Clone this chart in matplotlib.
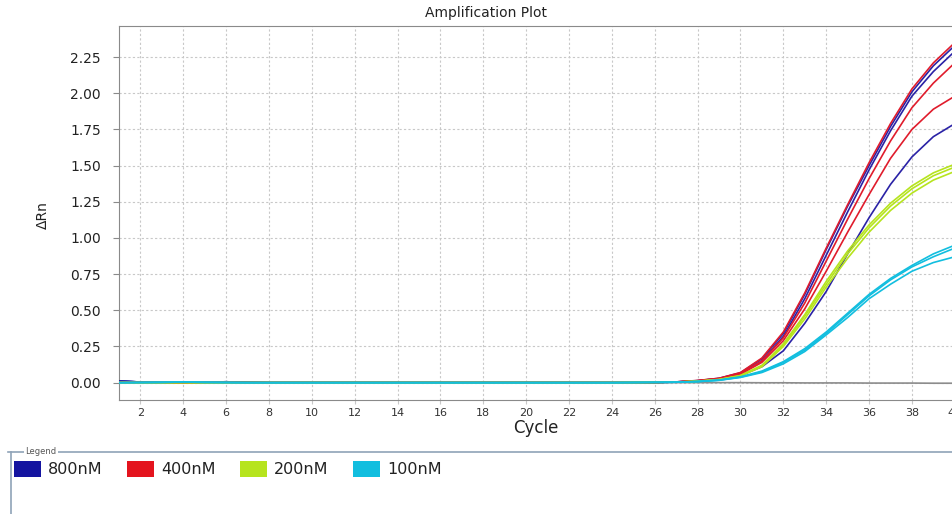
import matplotlib
matplotlib.use("Agg")
import matplotlib.pyplot as plt
from matplotlib.lines import Line2D
from matplotlib.patches import Rectangle

plt.rcParams['font.family'] = ['DejaVu Sans']

# cycle numbers
cycles = list(range(1, 41))

# baseline (cycles 1-26)
base_blue = [0.012, 0.004, 0.001, 0.001, 0.002, 0.006, 0.002, 0.0, 0.0, 0.0,
             0.0, 0.0, 0.0, 0.0, 0.0, 0.0, 0.0, 0.0, 0.0, 0.0,
             0.0, 0.0, 0.0, 0.0, 0.0, 0.001]
base_red = [0.002, 0.001, 0.0, 0.001, 0.001, 0.001, 0.0, 0.0, 0.0, 0.0,
            0.0, 0.0, 0.0, 0.0, 0.0, 0.0, 0.0, 0.0, 0.0, 0.0,
            0.0, 0.0, 0.0, 0.0, 0.001, 0.002]
base_green = [0.0, 0.0, 0.0, 0.001, 0.0, 0.0, 0.0, 0.0, 0.0, 0.0,
              0.0, 0.0, 0.0, 0.0, 0.0, 0.0, 0.0, 0.0, 0.0, 0.0,
              0.0, 0.0, 0.0, 0.0, 0.001, 0.002]
base_cyan = [0.0, 0.001, 0.002, 0.004, 0.002, 0.001, 0.0, 0.0, 0.0, 0.0,
             0.0, 0.0, 0.0, 0.0, 0.0, 0.0, 0.0, 0.0, 0.0, 0.0,
             0.0, 0.0, 0.0, 0.0, 0.001, 0.002]
ntc = [0.0] * 30 + [-0.001, -0.001, -0.002, -0.002, -0.002, -0.003, -0.003, -0.003, -0.004, -0.004]

# rise (cycles 27-40) for every well
rise_800 = [
    [0.005, 0.014, 0.030, 0.068, 0.165, 0.34, 0.61, 0.92, 1.22, 1.50, 1.77, 2.01, 2.19, 2.33],
    [0.005, 0.013, 0.028, 0.063, 0.150, 0.32, 0.58, 0.88, 1.18, 1.47, 1.74, 1.98, 2.15, 2.29],
    [0.004, 0.010, 0.022, 0.050, 0.110, 0.22, 0.41, 0.63, 0.89, 1.14, 1.37, 1.56, 1.70, 1.79],
]
rise_400 = [
    [0.005, 0.015, 0.030, 0.070, 0.170, 0.35, 0.62, 0.93, 1.23, 1.52, 1.79, 2.03, 2.21, 2.35],
    [0.005, 0.013, 0.028, 0.062, 0.150, 0.31, 0.55, 0.84, 1.13, 1.41, 1.67, 1.90, 2.07, 2.21],
    [0.004, 0.012, 0.026, 0.058, 0.140, 0.29, 0.51, 0.77, 1.04, 1.30, 1.55, 1.75, 1.89, 1.98],
]
rise_200 = [
    [0.004, 0.010, 0.022, 0.050, 0.120, 0.27, 0.47, 0.70, 0.91, 1.09, 1.24, 1.36, 1.45, 1.51],
    [0.004, 0.010, 0.021, 0.048, 0.115, 0.26, 0.46, 0.68, 0.89, 1.07, 1.22, 1.34, 1.43, 1.49],
    [0.004, 0.009, 0.020, 0.046, 0.110, 0.25, 0.44, 0.66, 0.86, 1.04, 1.19, 1.31, 1.40, 1.46],
]
rise_100 = [
    [0.003, 0.008, 0.018, 0.040, 0.080, 0.145, 0.235, 0.35, 0.48, 0.61, 0.72, 0.81, 0.89, 0.95],
    [0.003, 0.008, 0.017, 0.038, 0.075, 0.140, 0.225, 0.34, 0.47, 0.60, 0.71, 0.80, 0.87, 0.93],
    [0.003, 0.007, 0.016, 0.036, 0.070, 0.130, 0.215, 0.33, 0.45, 0.58, 0.68, 0.77, 0.83, 0.87],
]

labels = ['800nM', '400nM', '200nM', '100nM']
colors = ['#1414a0', '#e4141e', '#b6e41e', '#12bedf']
line_colors = ['#2a22a6', '#e01c2c', '#b6e41e', '#12bedf']
bases = [base_blue, base_red, base_green, base_cyan]
rises = [rise_800, rise_400, rise_200, rise_100]

W, H = 952, 514
fig = plt.figure(figsize=(W / 100, H / 100), dpi=100)
# axes runs past the right edge of the image like the original screenshot
ax = fig.add_axes([119 / W, (H - 400) / H, (965.5 - 119) / W, (400 - 26) / H])

ax.plot(cycles, ntc, color='#8c8c8c', lw=1.2, zorder=2)
for base, rs, col in zip(bases, rises, line_colors):
    for r in rs:
        ax.plot(cycles, base + r, color=col, lw=1.2, zorder=3)

ax.set_xlim(1, 40.5)
ax.set_ylim(-0.12, 2.465)
ax.set_xticks(range(2, 41, 2))
ax.set_yticks([0, 0.25, 0.5, 0.75, 1.0, 1.25, 1.5, 1.75, 2.0, 2.25])
ax.set_yticklabels(['0.00', '0.25', '0.50', '0.75', '1.00', '1.25', '1.50', '1.75', '2.00', '2.25'])
ax.grid(True, color='#c8c8c8', linestyle=(0, (2, 2)), linewidth=0.8)
ax.set_axisbelow(True)
for s in ['left', 'bottom', 'top']:
    ax.spines[s].set_color('#8a8a8a')
ax.spines['right'].set_visible(False)
ax.tick_params(axis='y', length=4, width=0.8, color='#8a8a8a', labelsize=10, pad=9, labelcolor='#222222')
ax.tick_params(axis='x', length=3, width=0.8, color='#c8c8c8', labelsize=8, pad=3, labelcolor='#333333')

fig.text(486 / W, 1 - 13 / H, 'Amplification Plot', ha='center', va='center', fontsize=10, color='#222222')
fig.text(536 / W, 1 - 428 / H, 'Cycle', ha='center', va='center', fontsize=12, color='#222222')
fig.text(43 / W, 1 - 215 / H, 'ΔRn', ha='center', va='center', fontsize=10, rotation=90, color='#222222')

# legend panel at the bottom
frame_col = '#8fa3b8'
fig.add_artist(Line2D([8 / W, 1.0], [1 - 452 / H, 1 - 452 / H], color=frame_col, lw=1.2))
fig.add_artist(Line2D([11 / W, 11 / W], [1 - 452 / H, 0], color=frame_col, lw=1.2))
fig.text(25 / W, 1 - 451 / H, 'Legend', ha='left', va='center', fontsize=6, color='#555555',
         bbox=dict(facecolor='white', edgecolor='none', pad=1))
patch_x = [14, 127, 240, 353]
for px, lab, col in zip(patch_x, labels, colors):
    fig.add_artist(Rectangle((px / W, 1 - 477 / H), 27 / W, 16 / H, facecolor=col, edgecolor='none'))
    fig.text((px + 34) / W, 1 - 469 / H, lab, ha='left', va='center', fontsize=11.5, color='#222222')

fig.savefig('out.png', dpi=100)
